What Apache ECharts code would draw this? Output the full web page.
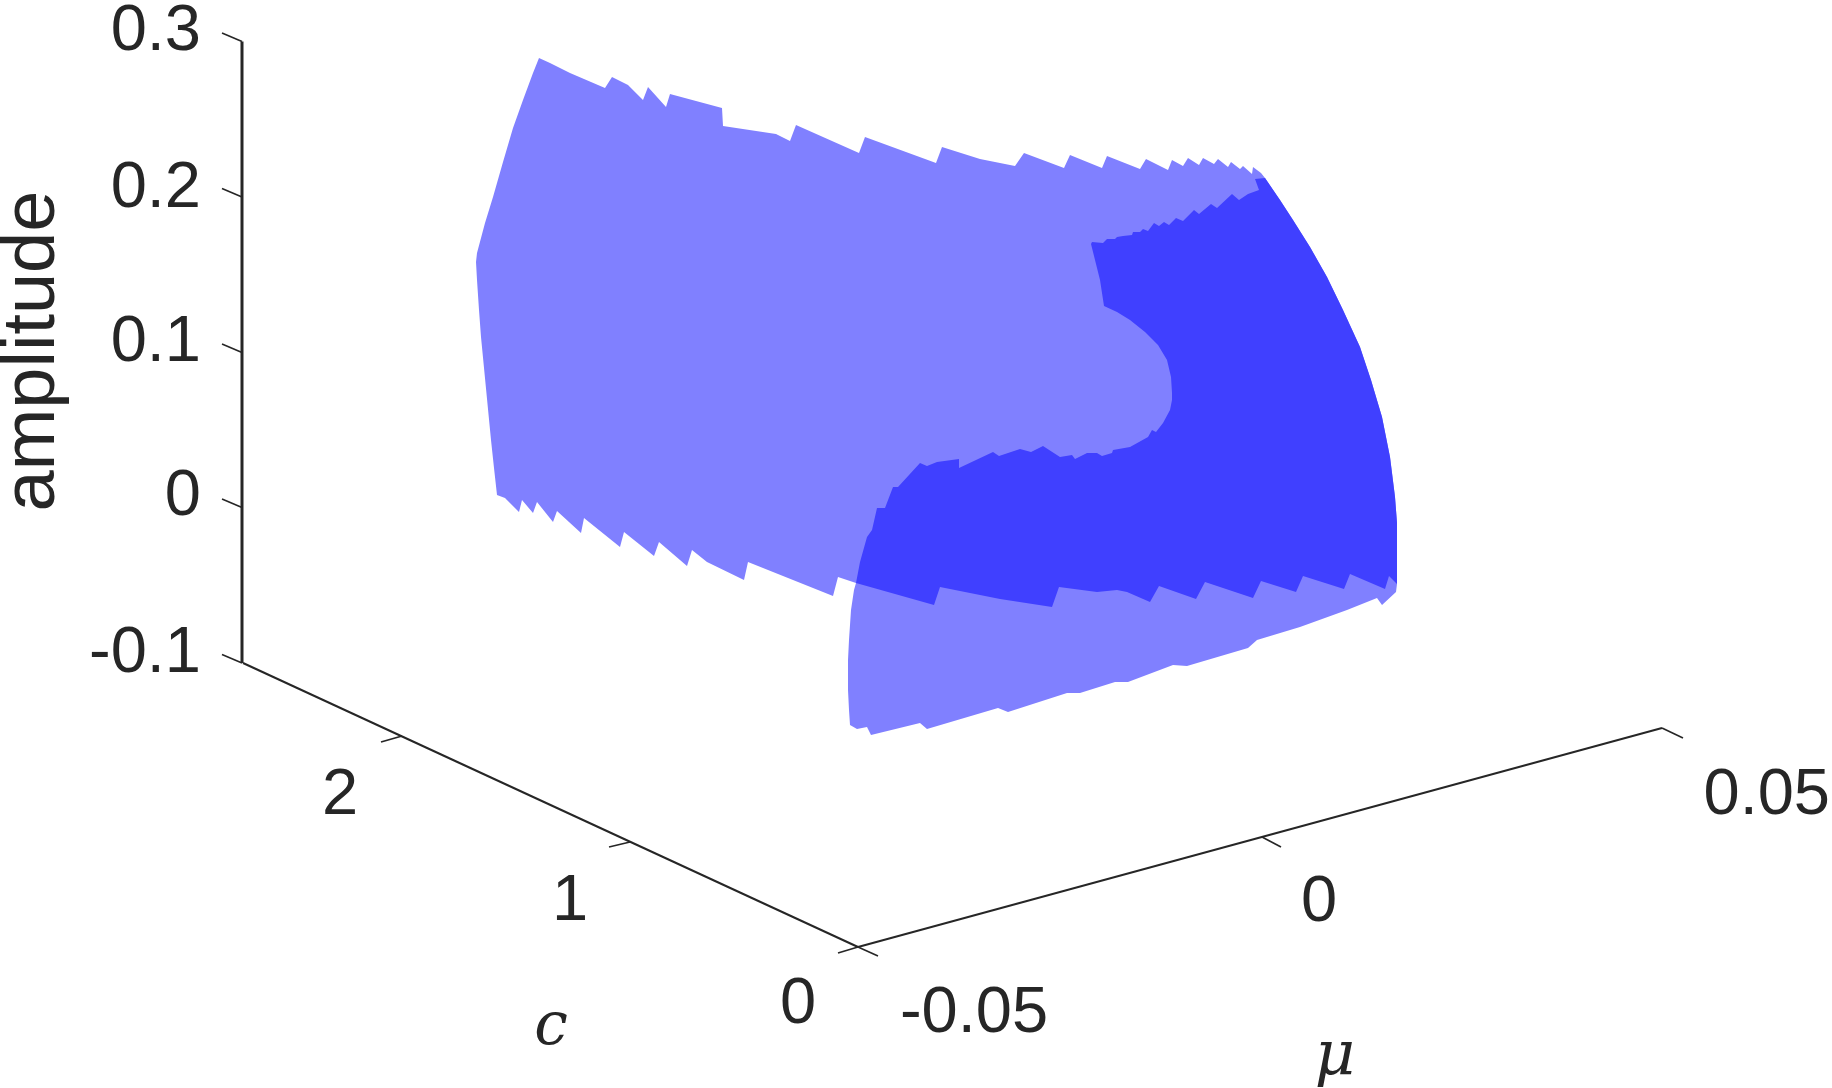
<!DOCTYPE html>
<html>
<head>
<meta charset="utf-8">
<style>html,body{margin:0;padding:0;background:#fff}#container{width:1832px;height:1088px}</style>
<script src="https://cdn.jsdelivr.net/npm/echarts@6/dist/echarts.min.js"></script>
</head>
<body>
<div id="container"></div>
<script>
// outlines, [view x, view y]
var sheetOutline = [
  [476,262],[477,253],[485,223],[493,197],[503,162],[513,128],[523,100],[533,73],[539,58],[550,63],[570,73],
  [605,88],[612,77],[628,85],[643,100],[648,87],[666,107],[670,94],
  [722,108],[723,126],[776,134],[790,141],[796,125],[859,153],[865,137],[936,163],[942,147],[980,159],[1015,166],[1024,153],
  [1064,168],[1070,155],[1102,168],[1107,156],[1140,169],[1146,159],[1168,170],[1172,160],[1183,166],[1188,158],
  [1199,165],[1203,158],[1214,164],[1218,159],[1228,167],[1231,162],[1240,169],[1243,166],[1252,174],[1253,167],
  [1261,173],[1265,178],[1280,200],[1293,220],[1310,247],[1327,277],[1343,310],[1360,347],[1371,380],[1382,417],
  [1390,457],[1395,497],[1397,523],[1397,553],
  [1397,584],[1396,592],[1382,605],[1377,598],[1347,610],[1300,627],[1257,640],[1248,648],[1187,666],[1173,665],[1128,682],
  [1115,682],[1080,693],[1067,693],[1008,712],[998,708],[927,729],[920,723],[871,735],[867,727],[857,729],[850,725],
  [849,710],[848,690],[848,660],[849,640],[851,610],[854,590],[856,583],[838,577],[833,596],[748,562],[744,580],[707,562],[692,550],[687,566],
  [659,542],[654,556],[624,532],[620,547],[584,518],[581,533],[557,511],[553,522],[537,502],[533,513],[522,500],
  [519,512],[505,498],[497,495],[494,468],[491,440],[481,337],[479,310],[477,280]
];
var overlapOutline = [
  [1255,179],[1265,178],[1280,200],[1293,220],[1310,247],[1327,277],[1343,310],[1360,347],[1371,380],[1382,417],
  [1390,457],[1395,497],[1397,523],[1397,553],
  [1397,584],[1389,576],[1385,589],[1350,574],[1344,589],[1303,576],[1296,592],[1261,581],[1253,598],[1205,582],
  [1196,599],[1159,586],[1150,602],[1127,592],[1117,590],[1097,592],[1059,587],[1052,607],[1000,599],[940,587],[934,605],
  [856,583],[860,562],[867,537],[872,530],[877,508],[885,508],[893,487],[898,487],[920,463],[927,466],[937,462],[959,459],
  [959,468],[993,452],[999,456],[1020,449],[1031,452],[1043,446],[1060,457],[1072,455],[1075,459],[1087,453],
  [1097,453],[1102,456],[1112,453],[1113,450],[1130,447],[1148,437],[1152,430],[1156,432],[1163,423],[1170,410],
  [1172,400],[1172,393],[1171,377],[1167,360],[1158,345],[1153,340],[1145,332],[1130,320],[1117,312],[1104,306],[1100,280],
  [1091,244],[1092,242],[1103,243],[1107,239],[1115,239],[1117,237],[1123,236],[1132,235],[1133,232],[1140,232],
  [1143,229],[1148,231],[1154,223],[1159,226],[1164,222],[1169,225],[1176,218],[1183,221],[1194,210],[1199,214],
  [1211,204],[1217,208],[1232,194],[1239,200],[1248,194],[1259,190]
];

// box edges and tick marks
var zEdge = [[[242,41.5],[242,663]]];
var floorEdges = [
  [[243,663],[858,947]],
  [[858,947],[1662,728]]
];
var tickMarks = [
  [[222,33],[242,41.5]],[[222,188.5],[242,197]],[[222,344],[242,352.5]],[[222,499],[242,507.5]],[[222,654.5],[242,663]],
  [[402,736],[381,742]],[[630,842],[609,847]],[[858,947],[838,953]],
  [[858,947],[878,956]],[[1262,837],[1281,847]],[[1662,728],[1683,738]]
];

var tickLabels = ['0.3','0.2','0.1','0','-0.1','2','1','0','-0.05','0','0.05'];
var tickLabelX = [201,201,201,201,201,340,570,798,974,1319,1830];
var tickLabelY = [32,189,343,497,654,796,902,1005,1014,903,796];
var tickLabelAlign = ['right','right','right','right','right','center','center','center','center','center','right'];

var zName = 'amplitude';
var cName = 'c';
var muName = 'μ';

var fontSans = '"Liberation Sans", Arial, sans-serif';
var fontMath = '"DejaVu Serif", "Liberation Serif", serif';
var textColor = '#262626';

function polygonSeries(outline, color) {
    return {
        type: 'custom',
        coordinateSystem: 'cartesian2d',
        silent: true,
        data: [0],
        renderItem: function (params, api) {
            return {
                type: 'polygon',
                shape: { points: outline.map(function (p) { return api.coord(p); }) },
                style: { fill: color }
            };
        }
    };
}

function segmentSeries(segments, width) {
    return {
        type: 'custom',
        coordinateSystem: 'cartesian2d',
        silent: true,
        data: segments.map(function (s, i) { return i; }),
        renderItem: function (params, api) {
            var s = segments[params.dataIndex];
            var a = api.coord(s[0]), b = api.coord(s[1]);
            return {
                type: 'line',
                shape: { x1: a[0], y1: a[1], x2: b[0], y2: b[1] },
                style: { stroke: textColor, lineWidth: width }
            };
        }
    };
}

function textSeries(items) {
    return {
        type: 'custom',
        coordinateSystem: 'cartesian2d',
        silent: true,
        data: items.map(function (s, i) { return i; }),
        renderItem: function (params, api) {
            var t = items[params.dataIndex];
            var p = api.coord([t.x, t.y]);
            return {
                type: 'text',
                x: p[0],
                y: p[1],
                rotation: t.rotation || 0,
                style: {
                    text: t.text,
                    fill: textColor,
                    font: t.font,
                    textAlign: t.align,
                    textVerticalAlign: 'middle'
                }
            };
        }
    };
}

var tickItems = tickLabels.map(function (t, i) {
    return { text: t, x: tickLabelX[i], y: tickLabelY[i], align: tickLabelAlign[i], font: '65px ' + fontSans };
});
var nameItems = [
    { text: zName, x: 34, y: 351, align: 'center', rotation: Math.PI / 2, font: '74px ' + fontSans },
    { text: cName, x: 551, y: 1028, align: 'center', font: 'italic 60px ' + fontMath },
    { text: muName, x: 1335, y: 1058, align: 'center', font: 'italic 62px ' + fontMath }
];

var myChart = echarts.init(document.getElementById('container'));
myChart.setOption({
    animation: false,
    backgroundColor: '#fff',
    grid: { left: 0, right: 0, top: 0, bottom: 0 },
    xAxis: { type: 'value', min: 0, max: 1832, show: false },
    yAxis: { type: 'value', min: 0, max: 1088, inverse: true, show: false },
    series: [
        polygonSeries(sheetOutline, '#8080ff'),
        polygonSeries(overlapOutline, '#4040ff'),
        segmentSeries(zEdge, 3),
        segmentSeries(floorEdges, 2),
        segmentSeries(tickMarks, 1.6),
        textSeries(tickItems),
        textSeries(nameItems)
    ]
});
</script>
</body>
</html>
